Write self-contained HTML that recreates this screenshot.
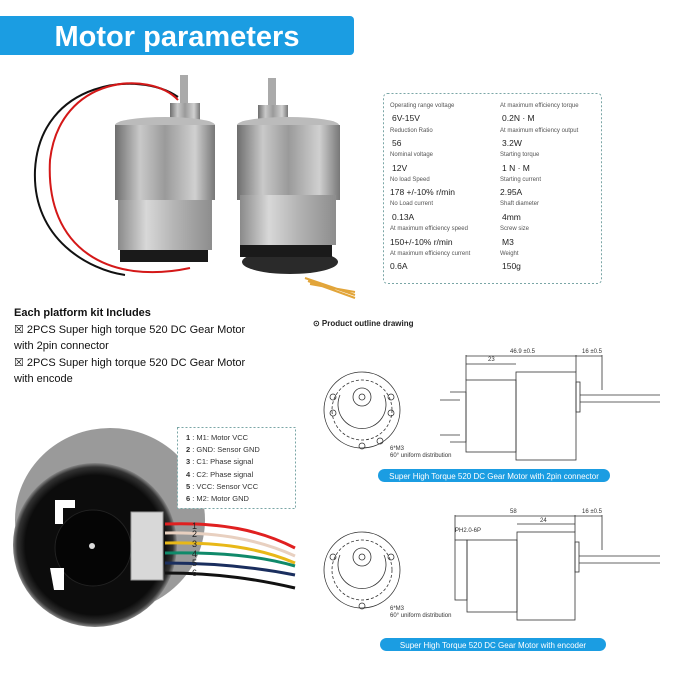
<!DOCTYPE html>
<html><head><meta charset="utf-8"><style>
html,body{margin:0;padding:0;background:#fff;}
svg{display:block;}
text{font-family:"Liberation Sans",sans-serif;}
</style></head><body>
<svg width="679" height="679" viewBox="0 0 679 679" xmlns="http://www.w3.org/2000/svg">
<defs>
<linearGradient id="metal" x1="0" x2="1">
<stop offset="0" stop-color="#6e6e6e"/><stop offset="0.25" stop-color="#c9c9c9"/><stop offset="0.5" stop-color="#9a9a9a"/><stop offset="0.8" stop-color="#d0d0d0"/><stop offset="1" stop-color="#777"/>
</linearGradient>
<linearGradient id="metal2" x1="0" x2="1">
<stop offset="0" stop-color="#8a8a8a"/><stop offset="0.3" stop-color="#d8d8d8"/><stop offset="0.6" stop-color="#b4b4b4"/><stop offset="1" stop-color="#8d8d8d"/>
</linearGradient>
<radialGradient id="enc" cx="0.5" cy="0.5" r="0.5">
<stop offset="0.85" stop-color="#0c0c0c"/><stop offset="0.95" stop-color="#333"/><stop offset="1" stop-color="#888"/>
</radialGradient>
</defs>
<!-- header -->
<path d="M0 16 H350 a4 4 0 0 1 4 4 V51 a4 4 0 0 1 -4 4 H0 Z" fill="#1b9de2"/>
<text x="177" y="46" font-size="29" font-weight="bold" fill="#fff" text-anchor="middle">Motor parameters</text>

<!-- left motor -->
<path d="M178 97 C140 70 40 80 35 170 C32 240 90 270 125 275" fill="none" stroke="#111" stroke-width="2"/>
<path d="M178 100 C150 70 60 75 50 160 C45 250 110 285 190 268" fill="none" stroke="#d41818" stroke-width="2"/>
<rect x="180" y="75" width="8" height="30" fill="#aaa"/>
<rect x="170" y="103" width="30" height="22" fill="url(#metal)"/>
<ellipse cx="165" cy="125" rx="50" ry="8" fill="#bbb"/>
<rect x="115" y="125" width="100" height="75" fill="url(#metal)"/>
<rect x="118" y="200" width="94" height="50" fill="url(#metal2)"/>
<rect x="120" y="250" width="88" height="12" fill="#1a1a1a"/>
<!-- right motor -->
<rect x="268" y="78" width="8" height="30" fill="#aaa"/>
<rect x="258" y="105" width="30" height="18" fill="url(#metal)"/>
<ellipse cx="288" cy="125" rx="51" ry="8" fill="#bbb"/>
<rect x="237" y="125" width="103" height="75" fill="url(#metal)"/>
<rect x="240" y="195" width="96" height="50" fill="url(#metal2)"/>
<ellipse cx="290" cy="262" rx="48" ry="12" fill="#2a2a2a"/>
<rect x="240" y="245" width="92" height="12" fill="#1a1a1a"/>
<path d="M305 278 L355 295 M308 281 L355 298 M310 284 L355 292" stroke="#e2a53a" stroke-width="2"/>

<!-- table -->
<rect x="383.5" y="93.5" width="218" height="190" rx="4" fill="#fff" stroke="#7aa6a6" stroke-dasharray="2,2"/>
<g font-size="6" fill="#555">
<text x="390" y="107">Operating range voltage</text><text x="500" y="107">At maximum efficiency torque</text>
<text x="390" y="132">Reduction Ratio</text><text x="500" y="132">At maximum efficiency output</text>
<text x="390" y="156">Nominal voltage</text><text x="500" y="156">Starting torque</text>
<text x="390" y="181">No load Speed</text><text x="500" y="181">Starting current</text>
<text x="390" y="205">No Load current</text><text x="500" y="205">Shaft diameter</text>
<text x="390" y="230">At maximum efficiency speed</text><text x="500" y="230">Screw size</text>
<text x="390" y="255">At maximum efficiency current</text><text x="500" y="255">Weight</text>
</g>
<g font-size="8.5" fill="#222">
<text x="392" y="121">6V-15V</text><text x="502" y="121">0.2N · M</text>
<text x="392" y="146">56</text><text x="502" y="146">3.2W</text>
<text x="392" y="171">12V</text><text x="502" y="171">1 N · M</text>
<text x="390" y="195">178 +/-10% r/min</text><text x="500" y="195">2.95A</text>
<text x="392" y="220">0.13A</text><text x="502" y="220">4mm</text>
<text x="390" y="245">150+/-10% r/min</text><text x="502" y="245">M3</text>
<text x="390" y="269">0.6A</text><text x="502" y="269">150g</text>
</g>

<!-- kit text -->
<text x="14" y="316" font-size="11" font-weight="bold" fill="#111">Each platform kit Includes</text>
<g font-size="11" fill="#111">
<text x="14" y="333">☒ 2PCS Super high torque 520 DC Gear Motor</text>
<text x="14" y="349">with 2pin connector</text>
<text x="14" y="366">☒ 2PCS Super high torque 520 DC Gear Motor</text>
<text x="14" y="382">with encode</text>
</g>

<!-- encoder -->
<ellipse cx="110" cy="520" rx="95" ry="92" fill="#9a9a9a"/>
<circle cx="95" cy="545" r="82" fill="url(#enc)"/>
<circle cx="93" cy="548" r="38" fill="#050505" stroke="#222"/>
<circle cx="92" cy="546" r="3" fill="#ddd"/>
<path d="M55 500 h20 v8 h-12 v16 h-8z" fill="#fff"/>
<path d="M50 568 h14 v22 h-10 z" fill="#fff"/>
<rect x="131" y="512" width="32" height="68" fill="#d8d8d8" stroke="#999"/>
<g stroke-width="3" fill="none">
<path d="M165 524 C220 522 260 530 295 548" stroke="#e02020"/>
<path d="M165 533 C220 532 260 540 295 556" stroke="#e8d0c0"/>
<path d="M165 543 C220 542 260 548 295 563" stroke="#e8b818"/>
<path d="M165 553 C220 552 260 556 295 566" stroke="#108a6a"/>
<path d="M165 563 C220 563 260 568 295 575" stroke="#1a2e5e"/>
<path d="M165 573 C220 573 260 580 295 588" stroke="#111"/>
</g>
<g font-size="9" fill="#222"><text x="192" y="529">1</text><text x="192" y="537">2</text><text x="192" y="547">3</text><text x="192" y="557">4</text><text x="192" y="566">5</text><text x="192" y="576">6</text></g>
<rect x="177.5" y="427.5" width="118" height="81" fill="#fff" stroke="#7aa6a6" stroke-dasharray="2,2"/>
<g font-size="7.5" fill="#333">
<text x="186" y="440"><tspan font-weight="bold">1</tspan> : M1: Motor VCC</text>
<text x="186" y="452"><tspan font-weight="bold">2</tspan> : GND: Sensor GND</text>
<text x="186" y="464"><tspan font-weight="bold">3</tspan> : C1: Phase signal</text>
<text x="186" y="477"><tspan font-weight="bold">4</tspan> : C2: Phase signal</text>
<text x="186" y="489"><tspan font-weight="bold">5</tspan> : VCC: Sensor VCC</text>
<text x="186" y="501"><tspan font-weight="bold">6</tspan> : M2: Motor GND</text>
</g>

<!-- drawing 1 -->
<text x="313" y="326" font-size="8" font-weight="bold" fill="#222">⊙ Product outline drawing</text>
<g stroke="#333" stroke-width="0.8" fill="none">
<circle cx="362" cy="410" r="38"/><circle cx="362" cy="410" r="30" stroke-dasharray="3,2"/>
<path d="M340 395 a24 24 0 1 0 44 0" /><circle cx="362" cy="397" r="9"/><circle cx="362" cy="397" r="3"/>
<circle cx="333" cy="397" r="3"/><circle cx="391" cy="397" r="3"/><circle cx="333" cy="413" r="3"/><circle cx="391" cy="413" r="3"/><circle cx="362" cy="446" r="3"/><circle cx="380" cy="441" r="3"/>
<rect x="466" y="380" width="50" height="72"/><rect x="516" y="372" width="60" height="88"/>
<rect x="576" y="382" width="4" height="30"/><path d="M580 395 H660 M580 402 H660"/>
<path d="M466 355 V380 M576 355 V372 M602 355 V390 M466 356 H576 M466 364 H516 M576 356 H602"/>
<path d="M450 392 h16 v50 h-16 M440 400 h20 M440 435 h20"/>
</g>
<g font-size="6" fill="#333"><text x="510" y="353">46.9 ±0.5</text><text x="582" y="353">16 ±0.5</text><text x="488" y="361">23</text>
<text x="390" y="450">6*M3</text><text x="390" y="457">60° uniform distribution</text></g>
<rect x="378" y="469" width="232" height="13" rx="6.5" fill="#1b9de2"/>
<text x="494" y="479" font-size="8" fill="#fff" text-anchor="middle">Super High Torque 520 DC Gear Motor with 2pin connector</text>

<!-- drawing 2 -->
<g stroke="#333" stroke-width="0.8" fill="none">
<circle cx="362" cy="570" r="38"/><circle cx="362" cy="570" r="30" stroke-dasharray="3,2"/>
<path d="M340 555 a24 24 0 1 0 44 0"/><circle cx="362" cy="557" r="9"/><circle cx="362" cy="557" r="3"/>
<circle cx="333" cy="557" r="3"/><circle cx="391" cy="557" r="3"/><circle cx="362" cy="606" r="3"/>
<rect x="455" y="540" width="12" height="60"/><rect x="467" y="540" width="50" height="72"/><rect x="517" y="532" width="58" height="88"/>
<rect x="575" y="542" width="4" height="30"/><path d="M579 556 H660 M579 563 H660"/>
<path d="M455 515 V540 M575 515 V532 M602 515 V550 M455 516 H575 M517 524 H575 M575 516 H602"/>
</g>
<g font-size="6" fill="#333"><text x="510" y="513">58</text><text x="540" y="522">24</text><text x="582" y="513">16 ±0.5</text><text x="455" y="532">PH2.0-6P</text>
<text x="390" y="610">6*M3</text><text x="390" y="617">60° uniform distribution</text></g>
<rect x="380" y="638" width="226" height="13" rx="6.5" fill="#1b9de2"/>
<text x="493" y="648" font-size="8" fill="#fff" text-anchor="middle">Super High Torque 520 DC Gear Motor with encoder</text>
</svg>
</body></html>
